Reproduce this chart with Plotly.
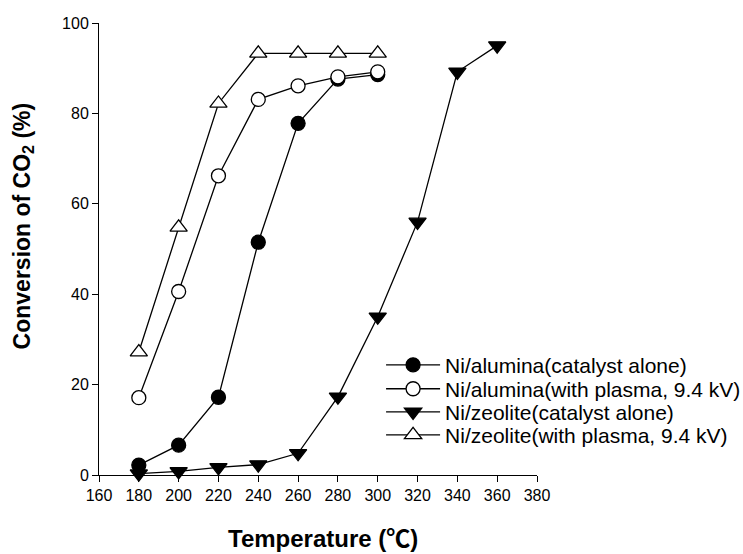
import plotly.graph_objects as go

temps = [180, 200, 220, 240, 260, 280, 300]
temps_zeolite = [180, 200, 220, 240, 260, 280, 300, 320, 340, 360]

alumina_alone = [2.2, 6.6, 17.2, 51.5, 77.8, 87.6, 88.6]
alumina_plasma = [17.1, 40.6, 66.2, 83.1, 86.1, 88.1, 89.2]
zeolite_alone = [0.3, 0.8, 1.7, 2.3, 4.8, 17.3, 35.0, 56.0, 89.2, 95.0]
zeolite_plasma = [27.2, 54.8, 82.2, 93.3, 93.3, 93.3, 93.3]

series_names = [
    "Ni/alumina(catalyst alone)",
    "Ni/alumina(with plasma, 9.4 kV)",
    "Ni/zeolite(catalyst alone)",
    "Ni/zeolite(with plasma, 9.4 kV)",
]

x_ticks = list(range(160, 381, 20))
y_ticks = list(range(0, 101, 20))

FONT = "Liberation Sans, Arial, sans-serif"

fig = go.Figure()

styles = [
    (temps, alumina_alone, "circle", "black", 14),
    (temps, alumina_plasma, "circle", "white", 14),
    (temps_zeolite, zeolite_alone, "triangle-down", "black", 15),
    (temps, zeolite_plasma, "triangle-up", "white", 15),
]

legend_ids = ["legend", "legend2", "legend3", "legend4"]

for name, lid, (xs, ys, sym, fill, size) in zip(series_names, legend_ids, styles):
    fig.add_trace(go.Scatter(
        x=xs, y=ys, name=name, mode="lines+markers",
        line=dict(color="black", width=1.3),
        marker=dict(symbol=sym, size=size, color=fill,
                    line=dict(color="black", width=1.3)),
        cliponaxis=False,
        legend=lid,
    ))

# one single-entry legend per series so the rows sit close together
row_y = [0.243, 0.190, 0.139, 0.088]
legend_kw = {}
for lid, y in zip(legend_ids, row_y):
    legend_kw[lid] = dict(
        x=0.644, y=y, xanchor="left", yanchor="middle",
        bgcolor="rgba(0,0,0,0)", borderwidth=0,
        font=dict(family=FONT, size=21, color="black"),
        itemwidth=54,
    )

fig.update_layout(
    width=743, height=554,
    margin=dict(l=99, r=206, t=23, b=79, autoexpand=False),
    paper_bgcolor="white", plot_bgcolor="white",
    font=dict(family=FONT, size=16, color="black"),
    showlegend=True,
    xaxis=dict(
        range=[160, 380], tickmode="array", tickvals=x_ticks,
        ticks="outside", ticklen=6, tickwidth=1, tickcolor="black",
        showline=True, linecolor="black", linewidth=1,
        showgrid=False, zeroline=False,
        tickfont=dict(family=FONT, size=16),
    ),
    yaxis=dict(
        range=[0, 100], tickmode="array", tickvals=y_ticks,
        ticks="outside", ticklen=6, tickwidth=1, tickcolor="black",
        showline=True, linecolor="black", linewidth=1,
        showgrid=False, zeroline=False,
        tickfont=dict(family=FONT, size=16),
    ),
    annotations=[
        dict(
            text="<b>Temperature (<span style=\"font-family:'Noto Sans CJK JP'\">℃</span>)</b>",
            xref="paper", yref="paper", x=0.5114, y=-0.136,
            xanchor="center", yanchor="middle", showarrow=False,
            font=dict(family=FONT, size=24, color="black"),
        ),
        dict(
            text="<b>Conversion of CO<sub>2</sub> (%)</b>",
            xref="paper", yref="paper", x=-0.1735, y=0.55,
            xanchor="center", yanchor="middle", showarrow=False,
            textangle=-90,
            font=dict(family=FONT, size=23, color="black"),
        ),
    ],
    **legend_kw,
)

fig.write_html("out.html")
